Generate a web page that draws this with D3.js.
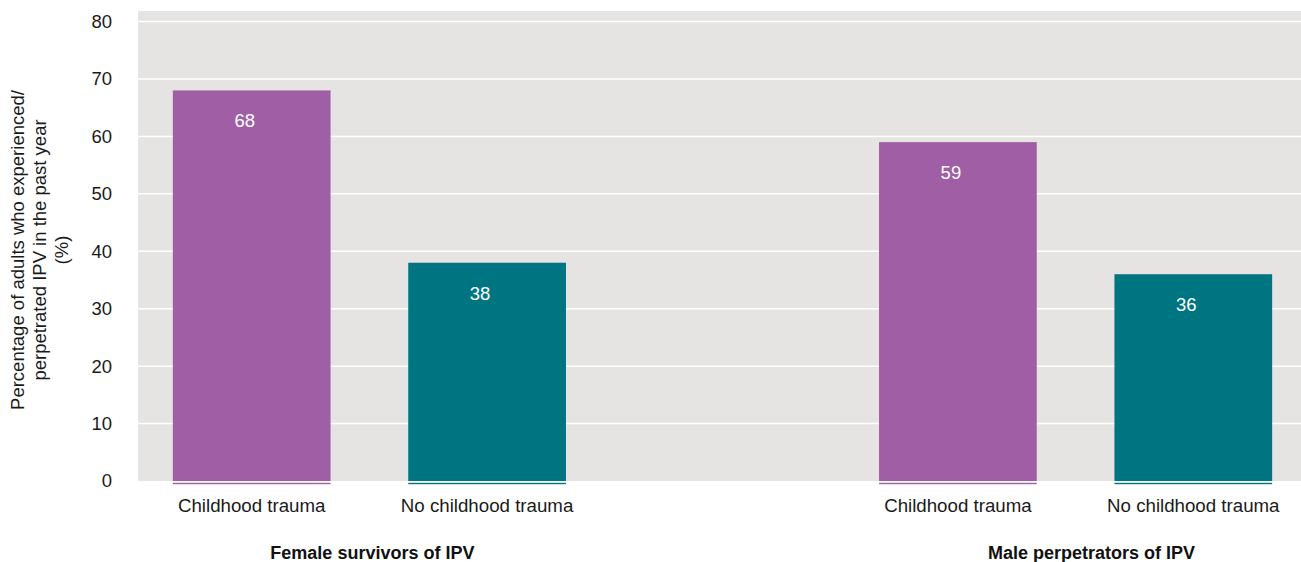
<!DOCTYPE html>
<html><head><meta charset="utf-8">
<script src="https://cdn.jsdelivr.net/npm/d3@7"></script>
<style>body{margin:0;background:#fff}svg{display:block}text{font-family:"Liberation Sans",Arial,Helvetica,sans-serif}</style>
</head><body><svg id="c" width="1301" height="562"></svg>
<script>
const slots = ["f_ct","f_nct","gap","m_ct","m_nct"];
const categories = ["Childhood trauma","No childhood trauma","","Childhood trauma","No childhood trauma"];
const values = [68,38,null,59,36];
const groups = ["Female survivors of IPV","Male perpetrators of IPV"];
const groupSlots = [["f_ct","f_nct"],["m_ct","m_nct"]];
const yTicks = [0,10,20,30,40,50,60,70,80];
const barColors = ["#a05ea5","#007582",null,"#a05ea5","#007582"];

const svg = d3.select("#c");
const x = d3.scaleBand().domain(slots).range([134,1311]).paddingInner(0.33).paddingOuter(0.165);
const y = d3.scaleLinear().domain([0,80]).range([481,21.5]);

svg.append("rect").attr("x",138).attr("y",11).attr("width",1163).attr("height",y(0)-11).attr("fill","#e6e4e2");
svg.append("g").selectAll("line").data(yTicks.filter(d=>d>0)).join("line")
  .attr("x1",138).attr("x2",1301).attr("y1",d=>y(d)).attr("y2",d=>y(d))
  .attr("stroke","#fff").attr("stroke-width",1.5);

const yAxis = svg.append("g").attr("transform","translate(112,0)")
  .call(d3.axisLeft(y).tickValues(yTicks).tickSize(0).tickPadding(0));
yAxis.select(".domain").remove();
yAxis.selectAll("text").attr("font-size",18.5).attr("fill","#1a1a1a").attr("font-family","Liberation Sans, Arial, sans-serif");

const data = slots.map((s,i)=>({s,v:values[i],c:barColors[i],cat:categories[i]})).filter(d=>d.v!==null);
svg.append("g").selectAll("rect").data(data).join("rect")
  .attr("x",d=>x(d.s)).attr("width",x.bandwidth())
  .attr("y",d=>y(d.v)).attr("height",d=>y(0)-y(d.v)).attr("fill",d=>d.c);
svg.append("g").selectAll("rect").data(data).join("rect")
  .attr("x",d=>x(d.s)).attr("width",x.bandwidth())
  .attr("y",y(0)+1.8).attr("height",1.4).attr("fill",d=>d.c);
svg.append("g").selectAll("text").data(data).join("text")
  .attr("x",d=>x(d.s)+x.bandwidth()/2 - 7).attr("y",d=>y(d.v)+37)
  .attr("text-anchor","middle").attr("fill","#fff").attr("font-size",18.5).text(d=>d.v);

svg.append("g").selectAll("text").data(data).join("text")
  .attr("x",d=>x(d.s)+x.bandwidth()/2).attr("y",512)
  .attr("text-anchor","middle").attr("fill","#1a1a1a").attr("font-size",18.7).text(d=>d.cat);

svg.append("g").selectAll("text").data(groups).join("text")
  .attr("x",(d,i)=>{const a=groupSlots[i]; return (x(a[0])+x(a[1])+x.bandwidth())/2 + (i===0?3:16);})
  .attr("y",559).attr("text-anchor","middle").attr("font-weight","bold").attr("font-size",18)
  .attr("fill","#111").text(d=>d);

const t = svg.append("text").attr("transform","translate(40,250) rotate(-90)")
  .attr("text-anchor","middle").attr("font-size",18.5).attr("fill","#1a1a1a");
["Percentage of adults who experienced/","perpetrated IPV in the past year","(%)"].forEach((l,i)=>{
  t.append("tspan").attr("x",0).attr("dy", i===0? -16 : 22).text(l);
});
</script></body></html>
